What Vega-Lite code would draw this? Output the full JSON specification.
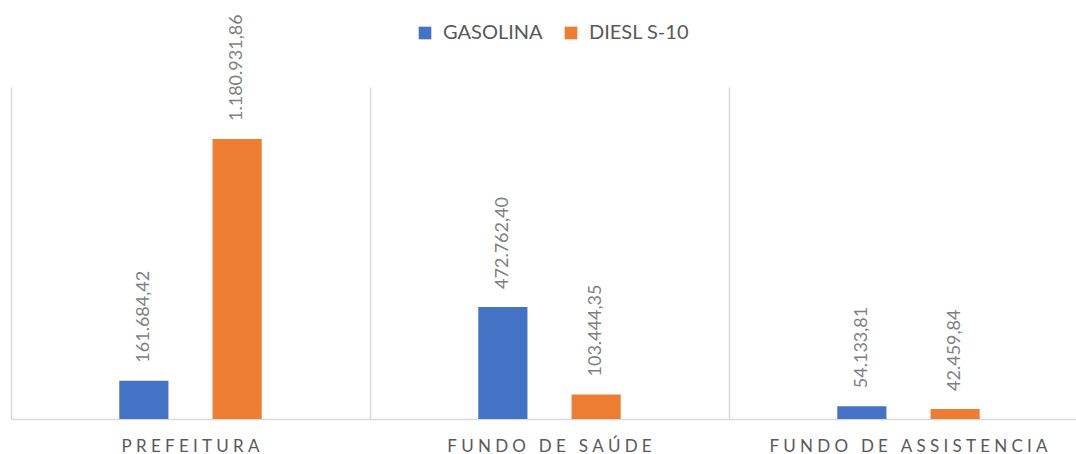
{
  "$schema": "https://vega.github.io/schema/vega-lite/v6.json",
  "autosize": {"type": "none"},
  "padding": {"left": 11, "top": 87, "right": 0, "bottom": 35},
  "width": 1077,
  "height": 332,
  "config": {
    "view": {"stroke": null},
    "font": "Lato",
    "locale": {"number": {"decimal": ",", "thousands": ".", "grouping": [3], "currency": ["R$", ""]}}
  },
  "data": {"values": [
    {"orgao": "PREFEITURA", "combustivel": "GASOLINA", "valor": 161684.42},
    {"orgao": "PREFEITURA", "combustivel": "DIESL S-10", "valor": 1180931.86},
    {"orgao": "FUNDO DE SAÚDE", "combustivel": "GASOLINA", "valor": 472762.40},
    {"orgao": "FUNDO DE SAÚDE", "combustivel": "DIESL S-10", "valor": 103444.35},
    {"orgao": "FUNDO DE ASSISTENCIA", "combustivel": "GASOLINA", "valor": 54133.81},
    {"orgao": "FUNDO DE ASSISTENCIA", "combustivel": "DIESL S-10", "valor": 42459.84}
  ]},
  "encoding": {
    "x": {
      "field": "orgao", "type": "nominal", "sort": null,
      "scale": {"paddingInner": 0, "paddingOuter": 0},
      "axis": {
        "title": null, "labelAngle": 0, "grid": true, "bandPosition": 0,
        "gridColor": "#d9d9d9", "gridWidth": 1.5, "domainColor": "#d9d9d9", "domainWidth": 1.5,
        "ticks": false, "labelFontSize": 17, "labelColor": "#595959", "labelPadding": 19,
        "labelFont": "Lato", "labelLimit": 0,
        "labelExpr": "join(split(datum.label, ''), '\u2009\u2009')"
      }
    },
    "xOffset": {
      "field": "combustivel", "type": "nominal",
      "scale": {"domain": ["_a", "GASOLINA", "DIESL S-10", "_b"], "paddingInner": 0.473, "paddingOuter": 0.161}
    },
    "y": {
      "field": "valor", "type": "quantitative",
      "scale": {"domain": [0, 1400000], "nice": false},
      "axis": null
    }
  },
  "layer": [
    {
      "mark": {"type": "bar"},
      "encoding": {
        "color": {
          "field": "combustivel", "type": "nominal",
          "scale": {"domain": ["GASOLINA", "DIESL S-10"], "range": ["#4472c4", "#ed7d31"]},
          "legend": {
            "title": null, "orient": "none", "direction": "horizontal",
            "legendX": 404, "legendY": -64,
            "symbolType": "square", "symbolSize": 160, "symbolStrokeWidth": 0,
            "labelFontSize": 20, "labelColor": "#595959", "labelFont": "Lato",
            "columnPadding": 18, "labelOffset": 8
          }
        }
      }
    },
    {
      "mark": {"type": "text", "angle": 270, "align": "left", "baseline": "middle", "dx": 18, "fontSize": 18, "color": "#7f7f7f", "font": "Lato"},
      "encoding": {
        "text": {"field": "valor", "type": "quantitative", "format": ",.2f"}
      }
    }
  ]
}
